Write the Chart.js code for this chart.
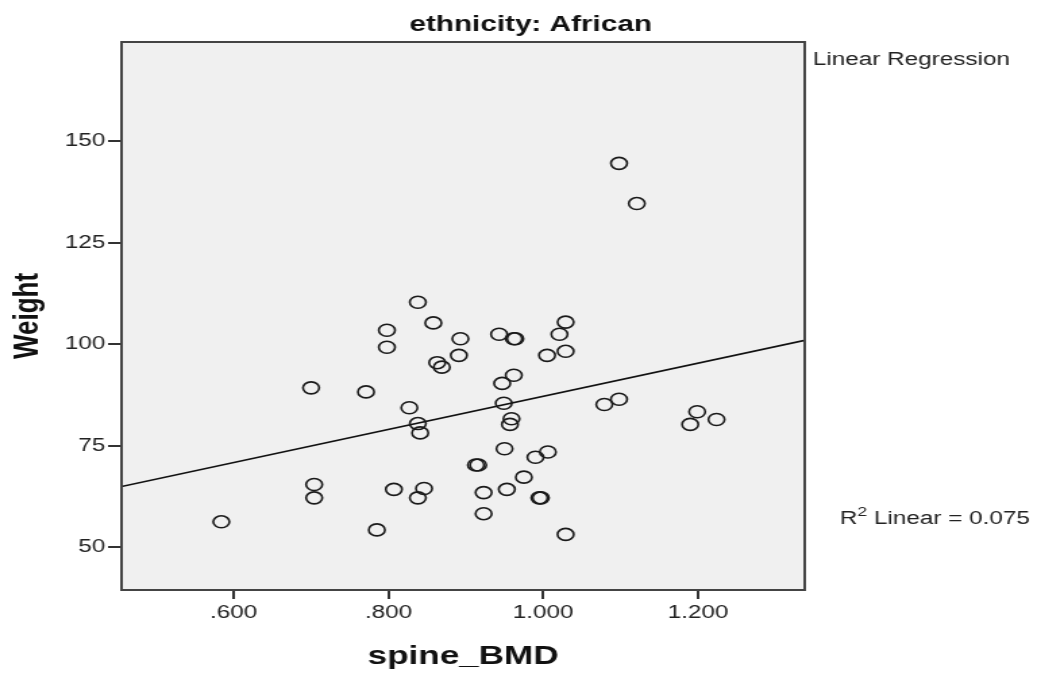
<!DOCTYPE html>
<html>
<head>
<meta charset="utf-8">
<title>ethnicity: African</title>
<script src="https://cdn.jsdelivr.net/npm/chart.js@4.4.0/dist/chart.umd.min.js"></script>
<style>
  html, body { margin: 0; padding: 0; background: #fff; overflow: hidden; }
  #wrap { width: 1041px; height: 675px; }
  /* the source picture is stretched sideways, so the chart is too */
  #scatterChart { transform: scaleX(1.3502); transform-origin: 0 0; }
</style>
</head>
<body>
<div id="wrap"><canvas id="scatterChart" width="771" height="675"></canvas></div>
<script>
// Data
const spineBMD = [
  0.584, 0.700, 0.704, 0.704, 0.771, 0.785, 0.798, 0.798, 0.807, 0.827,
  0.838, 0.838, 0.841, 0.838, 0.846, 0.858, 0.863, 0.869, 0.893, 0.891,
  0.913, 0.916, 0.923, 0.923, 0.943, 0.947, 0.949, 0.950, 0.953, 0.962,
  0.964, 0.962, 0.959, 0.957, 0.975, 0.990, 1.006, 0.995, 0.997, 1.005,
  1.021, 1.029, 1.029, 1.029, 1.079, 1.098, 1.098, 1.121, 1.190, 1.199,
  1.224
];
const weight = [
  56.3, 89.3, 65.5, 62.2, 88.3, 54.3, 103.5, 99.3, 64.3, 84.4,
  110.4, 80.5, 78.2, 62.2, 64.5, 105.3, 95.5, 94.4, 101.4, 97.3,
  70.3, 70.3, 63.5, 58.3, 102.5, 90.4, 85.5, 74.3, 64.3, 101.4,
  101.4, 92.4, 81.7, 80.3, 67.3, 72.2, 73.5, 62.2, 62.2, 97.3,
  102.5, 105.5, 98.3, 53.2, 85.2, 86.5, 144.6, 134.7, 80.3, 83.4,
  81.5
];

// Fit line end points (R2 linear = 0.075)
const fitX = [0.455, 1.338];
const fitY = [65.0, 101.0];

const xTicks = [0.6, 0.8, 1.0, 1.2];
const yTicks = [50, 75, 100, 125, 150];

const FONT = "Arial, 'Liberation Sans', sans-serif";

const points = spineBMD.map((v, i) => ({ x: v, y: weight[i] }));
const fitLine = fitX.map((v, i) => ({ x: v, y: fitY[i] }));

// Plot background, frame and side texts
const framePlugin = {
  id: 'frame',
  beforeDatasetsDraw(chart) {
    const { ctx, chartArea: a } = chart;
    ctx.save();
    ctx.fillStyle = '#f0f0f0';
    ctx.fillRect(a.left, a.top, a.right - a.left, a.bottom - a.top);
    ctx.restore();
  },
  afterDraw(chart) {
    const { ctx, chartArea: a } = chart;
    ctx.save();
    ctx.strokeStyle = '#444';
    ctx.lineWidth = 2;
    ctx.strokeRect(a.left, a.top, a.right - a.left, a.bottom - a.top);

    // title
    ctx.fillStyle = '#111';
    ctx.font = 'bold 22px ' + FONT;
    ctx.textAlign = 'center';
    ctx.textBaseline = 'middle';
    ctx.fillText('ethnicity: African', 393, 25);

    // right side labels
    ctx.font = '18px ' + FONT;
    ctx.textAlign = 'left';
    ctx.fillStyle = '#222';
    ctx.fillText('Linear Regression', 602, 60);

    let x = 622;
    const y = 519;
    ctx.fillText('R', x, y);
    x += ctx.measureText('R').width;
    ctx.font = '13px ' + FONT;
    ctx.fillText('2', x, y - 7);
    x += ctx.measureText('2').width;
    ctx.font = '18px ' + FONT;
    ctx.fillText(' Linear = 0.075', x, y);
    ctx.restore();
  }
};

const ctx = document.getElementById('scatterChart').getContext('2d');

const chart = new Chart(ctx, {
  type: 'scatter',
  data: {
    datasets: [
      {
        label: 'Weight',
        data: points,
        pointRadius: 6,
        pointHoverRadius: 6,
        pointBorderWidth: 1.6,
        pointBorderColor: '#1a1a1a',
        pointBackgroundColor: 'rgba(0,0,0,0)'
      },
      {
        label: 'Linear',
        type: 'line',
        data: fitLine,
        showLine: true,
        borderColor: '#111',
        borderWidth: 1.6,
        pointRadius: 0,
        fill: false
      }
    ]
  },
  options: {
    responsive: false,
    animation: false,
    layout: { padding: { top: 42, right: 175, bottom: 0, left: 0 } },
    plugins: {
      legend: { display: false },
      title: { display: false },
      tooltip: { enabled: false }
    },
    scales: {
      x: {
        type: 'linear',
        min: 0.455,
        max: 1.338,
        afterBuildTicks: scale => { scale.ticks = xTicks.map(v => ({ value: v })); },
        afterFit: scale => { scale.height = 85; },
        border: { display: false },
        grid: { drawOnChartArea: false, drawTicks: true, tickLength: 9, color: '#333', lineWidth: 2 },
        ticks: {
          padding: 3,
          color: '#222',
          font: { family: FONT, size: 18 },
          maxRotation: 0,
          callback: v => v.toFixed(3).replace(/^0/, '')
        },
        title: {
          display: true,
          text: 'spine_BMD',
          color: '#111',
          font: { family: FONT, size: 26, weight: 'bold' },
          padding: { top: 0, bottom: 3 }
        }
      },
      y: {
        type: 'linear',
        min: 39.5,
        max: 174.5,
        afterBuildTicks: scale => { scale.ticks = yTicks.map(v => ({ value: v })); },
        afterFit: scale => { scale.width = 90; },
        border: { display: false },
        grid: { drawOnChartArea: false, drawTicks: true, tickLength: 10, color: '#333', lineWidth: 2 },
        ticks: {
          padding: 2,
          color: '#222',
          font: { family: FONT, size: 18 }
        },
        title: {
          display: true,
          text: 'Weight',
          color: '#111',
          font: { family: FONT, size: 26, weight: 'bold' },
          padding: { top: 5, bottom: 0 }
        }
      }
    }
  },
  plugins: [framePlugin]
});
</script>
</body>
</html>
